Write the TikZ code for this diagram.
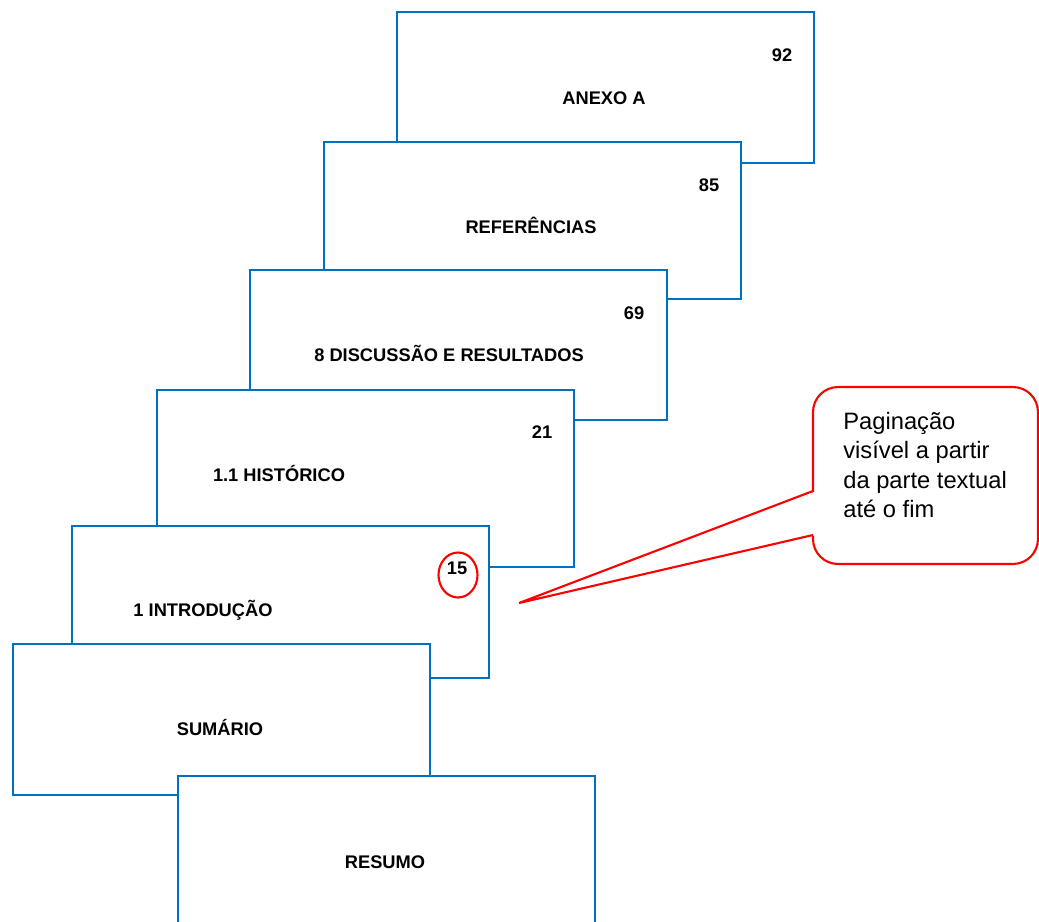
\documentclass[tikz,border=0pt]{standalone}
\usepackage{fontspec}
\setmainfont{Liberation Sans}
\usetikzlibrary{shapes.geometric}
\definecolor{pageblue}{HTML}{0070C0}

\begin{document}
\begin{tikzpicture}[
x=0.02cm, y=-0.02cm,
page/.style={rectangle, draw=pageblue, fill=white, line width=1.2pt, anchor=north west, minimum width=8.34cm, inner sep=0pt},
page_title/.style={anchor=base, inner sep=0pt, font=\fontsize{10.4}{12}\selectfont\bfseries},
page_number/.style={anchor=base, inner sep=0pt, font=\fontsize{10.4}{12}\selectfont\bfseries},
mark_ring/.style={ellipse, draw=red, line width=1.2pt, minimum width=0.78cm, minimum height=0.9cm, inner sep=0pt},
note_box/.style={rectangle, rounded corners=0.5cm, draw=red, fill=white, line width=1.2pt, minimum width=4.5cm, minimum height=3.54cm},
note_text/.style={anchor=north west, inner sep=0pt, align=left, font=\fontsize{13.5}{16.7}\selectfont},
note_line/.style={draw=red, line width=1.2pt}
]
\useasboundingbox (0,0) rectangle (1039,921);
\clip (0,0) rectangle (1039,921);

% \node[page, minimum height=...](name_of_page) at (left,top) {};
% \node[page_title/page_number](name_of_text) at (x,baseline) {text};
\node[page, minimum height=3.02cm](anexo) at (396,11) {};
\node[page_number](anexo_num) at (782,61) {92};
\node[page_title](anexo_title) at (604,104) {ANEXO A};

\node[page, minimum height=3.14cm](refs) at (323,141) {};
\node[page_number](refs_num) at (709,191) {85};
\node[page_title](refs_title) at (531,233) {REFERÊNCIAS};

\node[page, minimum height=3.0cm](discussao) at (249,269) {};
\node[page_number](discussao_num) at (634,319) {69};
\node[page_title](discussao_title) at (449,361) {8 DISCUSSÃO E RESULTADOS};

\node[page, minimum height=3.54cm](historico) at (156,389) {};
\node[page_number](historico_num) at (542,438) {21};
\node[page_title](historico_title) at (279,481) {1.1 HISTÓRICO};

\node[page, minimum height=3.04cm](intro) at (71,525) {};
\node[page_number](intro_num) at (457,574) {15};
\node[mark_ring](intro_ring) at (458,575) {};
\node[page_title](intro_title) at (203,616) {1 INTRODUÇÃO};

\node[page, minimum height=3.02cm](sumario) at (12,643) {};
\node[page_title](sumario_title) at (220,735) {SUMÁRIO};

\node[page, minimum height=3.4cm](resumo) at (177,775) {};
\node[page_title](resumo_title) at (385,868) {RESUMO};

% callout: box, then pointer from its left side to the free tip
\node[note_box](note) at (925.5,475.5) {};
\node[note_text](note_text) at (843,412) {Paginação\\visível a partir\\da parte textual\\até o fim};

\coordinate (ptr_top) at (813,491);
\coordinate (ptr_bottom) at (813,535);
\coordinate (ptr_tip) at (519,603);
\fill[white] ([xshift=2pt]ptr_top) -- (ptr_tip) -- ([xshift=2pt]ptr_bottom) -- cycle;
\draw[note_line] (ptr_top) -- (ptr_tip) -- (ptr_bottom);
\end{tikzpicture}
\end{document}
